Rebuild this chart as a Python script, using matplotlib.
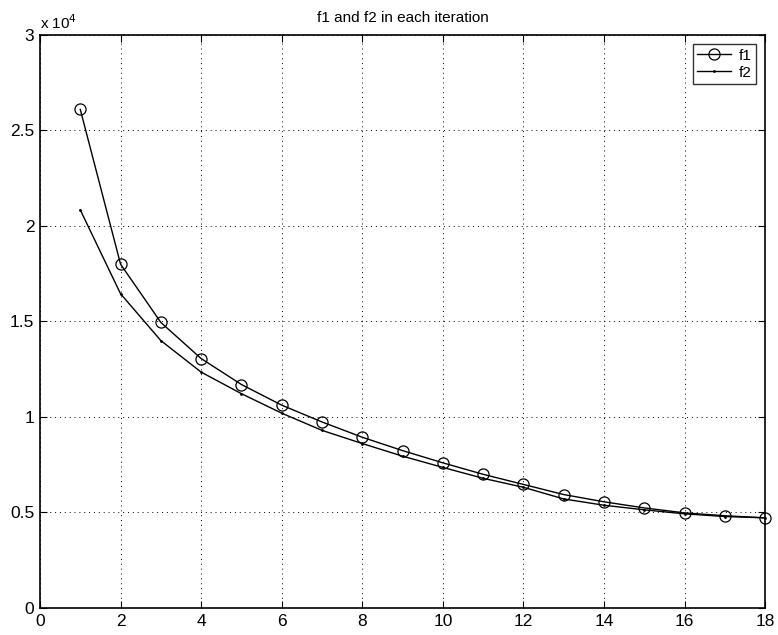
import numpy as np
import matplotlib
matplotlib.use('Agg')
import matplotlib.pyplot as plt
from matplotlib.ticker import FuncFormatter

# iteration number and objective values
iteration = np.arange(1, 19)
f1 = [26100, 18000, 14950, 13060, 11700, 10620, 9740, 8940, 8240,
      7600, 7000, 6470, 5940, 5560, 5240, 4980, 4830, 4720]
f2 = [20840, 16450, 14000, 12350, 11220, 10200, 9300, 8610, 7950,
      7360, 6790, 6320, 5710, 5380, 5140, 4930, 4790, 4720]

plt.rcParams['font.family'] = ['Liberation Sans', 'DejaVu Sans']

fig = plt.figure(figsize=(7.78, 6.35), dpi=100)
ax = fig.add_axes([0.0514, 0.0425, 0.932, 0.9025])

ax.plot(iteration, f1, color='black', lw=1.0, marker='o', markersize=8,
        markerfacecolor='none', markeredgewidth=0.9, label='f1',
        clip_on=False, zorder=3)
ax.plot(iteration, f2, color='black', lw=1.0, marker='.', markersize=2,
        label='f2', clip_on=False, zorder=3)

ax.set_xlim(0, 18)
ax.set_ylim(0, 30000)
ax.set_xticks(np.arange(0, 19, 2))
ax.set_yticks(np.arange(0, 30001, 5000))
ax.yaxis.set_major_formatter(FuncFormatter(lambda v, p: '%g' % (v / 1e4)))
ax.grid(True, linestyle=(0, (1, 4)), color='black', lw=0.7)
ax.tick_params(direction='in', length=5, top=True, right=True,
               labelsize=12.5, width=0.8, pad=4)
for s in ax.spines.values():
    s.set_linewidth(1.2)

ax.text(0.0, 1.005, 'x 10$^{4}$', transform=ax.transAxes, fontsize=11,
        ha='left', va='bottom')
ax.set_title('f1 and f2 in each iteration', fontsize=11, pad=9)

leg = ax.legend(loc='upper right', fancybox=False, edgecolor='black',
                fontsize=11, handlelength=2.2, borderaxespad=0.6,
                handletextpad=0.5, borderpad=0.3, labelspacing=0.2)
leg.get_frame().set_linewidth(1.0)

fig.savefig('out.png', dpi=100)
